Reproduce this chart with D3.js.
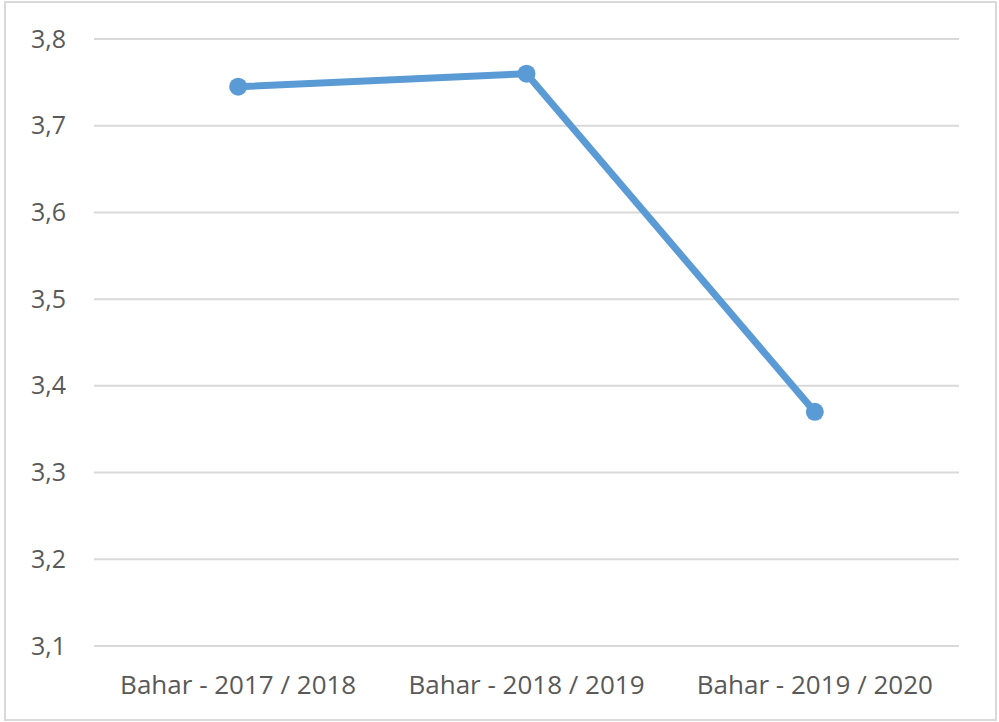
<!DOCTYPE html>
<html>
<head>
<meta charset="utf-8">
<script src="https://cdn.jsdelivr.net/npm/d3@7"></script>
<style>
  body { margin: 0; background: #fff; }
  text { font-family: "Open Sans", "Liberation Sans", sans-serif; fill: #595959; }
</style>
</head>
<body>
<div id="chart-container"></div>
<script>
// Data
const categories = ["Bahar - 2017 / 2018", "Bahar - 2018 / 2019", "Bahar - 2019 / 2020"];
const values = [3.745, 3.76, 3.37];
const yTicks = [3.1, 3.2, 3.3, 3.4, 3.5, 3.6, 3.7, 3.8];

const width = 999;
const height = 722;
const margin = { top: 39, right: 40, bottom: 76, left: 94 };

const svg = d3.select('#chart-container').append('svg')
  .attr('width', width)
  .attr('height', height);

// Outer border
svg.append('rect')
  .attr('x', 5).attr('y', 2)
  .attr('width', width - 8).attr('height', height - 4)
  .attr('fill', 'none')
  .attr('stroke', '#d9d9d9')
  .attr('stroke-width', 2);

const xScale = d3.scaleBand()
  .domain(categories)
  .range([margin.left, width - margin.right]);

const yScale = d3.scaleLinear()
  .domain([3.1, 3.8])
  .range([height - margin.bottom, margin.top]);

// Gridlines
svg.append('g')
  .selectAll('line')
  .data(yTicks)
  .enter().append('line')
  .attr('x1', margin.left)
  .attr('x2', width - margin.right)
  .attr('y1', d => yScale(d))
  .attr('y2', d => yScale(d))
  .attr('stroke', '#d9d9d9')
  .attr('stroke-width', 2);

// Y axis labels
const yAxis = svg.append('g')
  .attr('transform', `translate(${margin.left - 28},0)`)
  .call(d3.axisLeft(yScale).tickValues(yTicks).tickSize(0).tickPadding(0)
    .tickFormat(d => d3.format('.1f')(d).replace('.', ',')));
yAxis.select('.domain').remove();
yAxis.selectAll('text')
  .attr('font-size', 25)
  .attr('fill', '#595959')
  .style('font-family', '"Open Sans", sans-serif');

// X axis labels
const xAxis = svg.append('g')
  .attr('transform', `translate(0,${height - margin.bottom})`)
  .call(d3.axisBottom(xScale).tickSize(0).tickPadding(30));
xAxis.select('.domain').remove();
xAxis.selectAll('text')
  .attr('font-size', 26)
  .attr('fill', '#595959')
  .style('font-family', '"Open Sans", sans-serif');

// Line
const line = d3.line()
  .x((d, i) => xScale(categories[i]) + xScale.bandwidth() / 2)
  .y(d => yScale(d));

svg.append('path')
  .datum(values)
  .attr('fill', 'none')
  .attr('stroke', '#5b9bd5')
  .attr('stroke-width', 7)
  .attr('stroke-linejoin', 'round')
  .attr('d', line);

svg.selectAll('.dot')
  .data(values)
  .enter().append('circle')
  .attr('class', 'dot')
  .attr('cx', (d, i) => xScale(categories[i]) + xScale.bandwidth() / 2)
  .attr('cy', d => yScale(d))
  .attr('r', 9)
  .attr('fill', '#5b9bd5');
</script>
</body>
</html>
